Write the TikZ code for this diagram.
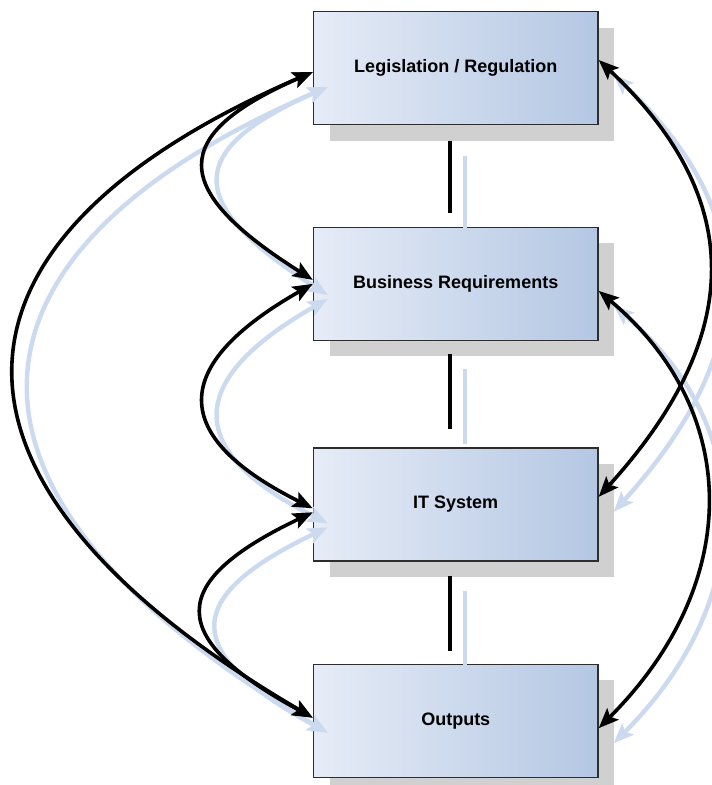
\documentclass[tikz,border=0pt]{standalone}
\usepackage{fontspec}
\setmainfont{Liberation Sans}
\usetikzlibrary{positioning,arrows.meta,shadows}

\definecolor{boxlight}{RGB}{230,236,247}
\definecolor{boxdark}{RGB}{180,199,227}
\definecolor{boxline}{RGB}{45,45,45}
\definecolor{shadowgray}{RGB}{208,208,208}
\definecolor{ghostblue}{RGB}{204,218,240}

\begin{document}
\begin{tikzpicture}[x=1pt,y=-1pt,
  box/.style={rectangle, draw=boxline, line width=1.4pt, minimum width=284.5pt, minimum height=113pt,
    left color=boxlight, right color=boxdark,
    drop shadow={shadow xshift=16pt, shadow yshift=-16pt, fill=shadowgray, opacity=1},
    font=\fontsize{18}{22}\selectfont\bfseries},
  link/.style={line width=3.6pt, draw=black},
  ghost/.style={line width=4.4pt, draw=ghostblue, transform canvas={shift={(15pt,-15pt)}}},
  both/.style={{Stealth[length=20pt,width=16pt,inset=4pt]}-{Stealth[length=20pt,width=16pt,inset=4pt]}}]
\useasboundingbox (0,0) rectangle (712,785);

\node[box] (leg) at (455.75,68) {Legislation / Regulation};
\node[box, below=101.5pt of leg] (bus) {Business Requirements};
\node[box, below=106pt of bus] (it) {IT System};
\node[box, below=102pt of it] (out) {Outputs};

% shadow copy first, then the black links
\foreach \s in {ghost,link}{
  \draw[\s, shorten <=15.5pt, shorten >=14pt] ([xshift=-6pt]leg.south) -- ([xshift=-6pt]bus.north);
  \draw[\s, shorten <=13pt, shorten >=18pt] ([xshift=-6pt]bus.south) -- ([xshift=-6pt]it.north);
  \draw[\s, shorten <=14pt, shorten >=13pt] ([xshift=-6pt]it.south) -- ([xshift=-6pt]out.north);
  % left side
  \draw[\s, both] ([yshift=-4pt]leg.west) .. controls +(-144,63) and +(-144,-91) .. ([yshift=4pt]bus.west);
  \draw[\s, both] ([yshift=-4pt]leg.west) .. controls +(-397,171) and +(-397,-232) .. ([yshift=3pt]out.west);
  \draw[\s, both] (bus.west) .. controls +(-144,82) and +(-144,-72) .. ([yshift=-4pt]it.west);
  \draw[\s, both] ([yshift=-8pt]it.west) .. controls +(-147,70) and +(-147,-80) .. ([yshift=3pt]out.west);
  % right side
  \draw[\s, both] ([yshift=8pt]leg.east) .. controls +(147,138) and +(147,-162) .. ([yshift=7.5pt]it.east);
  \draw[\s, both] ([yshift=-7pt]bus.east) .. controls +(144,121) and +(144,-144) .. ([yshift=-7.5pt]out.east);
}
\end{tikzpicture}
\end{document}
